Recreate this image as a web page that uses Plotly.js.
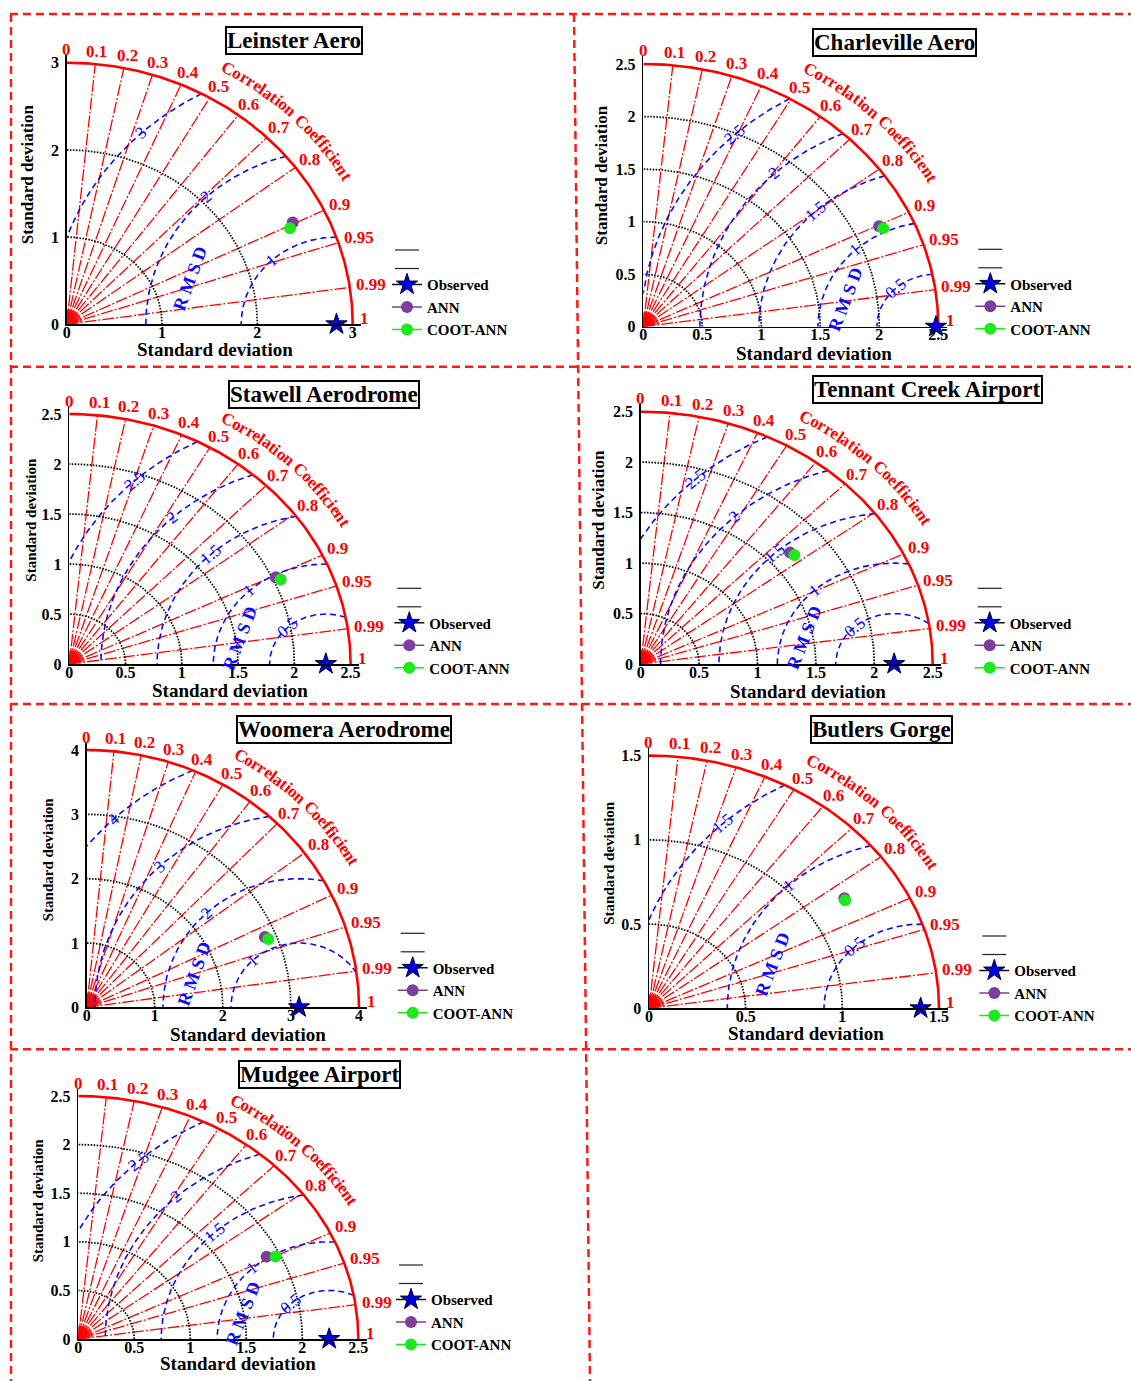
<!DOCTYPE html>
<html><head><meta charset="utf-8">
<script src="https://cdn.plot.ly/plotly-3.0.1.min.js"></script>
<style>html,body{margin:0;padding:0;background:#fff}</style>
</head><body><div id="chart" style="width:1131px;height:1381px"></div>
<script>
// ---------------- DATA ----------------
const stations = ['Leinster Aero', 'Charleville Aero', 'Stawell Aerodrome', 'Tennant Creek Airport', 'Woomera Aerodrome', 'Butlers Gorge', 'Mudgee Airport'];
const stdMax = [3, 2.5, 2.5, 2.5, 4, 1.5, 2.5];
const stdTicks = [
  [0, 1, 2, 3],
  [0, 0.5, 1, 1.5, 2, 2.5],
  [0, 0.5, 1, 1.5, 2, 2.5],
  [0, 0.5, 1, 1.5, 2, 2.5],
  [0, 1, 2, 3, 4],
  [0, 0.5, 1, 1.5],
  [0, 0.5, 1, 1.5, 2, 2.5]
];
const rmsdLevels = [
  [1, 2, 3],
  [0.5, 1, 1.5, 2, 2.5],
  [0.5, 1, 1.5, 2, 2.5],
  [0.5, 1, 1.5, 2, 2.5],
  [1, 2, 3, 4],
  [0.5, 1, 1.5],
  [0.5, 1, 1.5, 2, 2.5]
];
const observedStd = [2.83, 2.48, 2.28, 2.17, 3.12, 1.405, 2.24];
const annStd  = [2.643, 2.215, 2.030, 1.689, 2.836, 1.203, 1.883];
const annCorr = [0.897, 0.902, 0.904, 0.757, 0.923, 0.840, 0.893];
const cootStd  = [2.589, 2.239, 2.060, 1.702, 2.872, 1.200, 1.955];
const cootCorr = [0.905, 0.908, 0.912, 0.773, 0.929, 0.845, 0.901];
const corrTicks = [0, 0.1, 0.2, 0.3, 0.4, 0.5, 0.6, 0.7, 0.8, 0.9, 0.95, 0.99, 1];
const corrTickLabels = ['0', '0.1', '0.2', '0.3', '0.4', '0.5', '0.6', '0.7', '0.8', '0.9', '0.95', '0.99', '1'];
const seriesNames = ['Observed', 'ANN', 'COOT-ANN'];

// ---------------- LAYOUT / STYLE ----------------
const W = 1131, H = 1381;
const FONT = 'Liberation Serif, Times New Roman, serif';
const RED = '#ff0000', BLUE = '#0a0aff';
const PANELS = [
  {ox: 66.7, oy: 324.3, w: 286, h: 261.6, title: [294, 40.5], xt: [214.5, 349.3], yt: [28.3, 174, 17], leg: [395, 250]},
  {ox: 643.3, oy: 326.7, w: 295, h: 262.7, title: [894, 42], xt: [813.8, 353.3], yt: [601.7, 175.5, 17], leg: [978.3, 249.3]},
  {ox: 69.3, oy: 664, w: 281.3, h: 250, title: [324, 394], xt: [230, 690], yt: [30.7, 520, 15], leg: [397.3, 588.3]},
  {ox: 640.7, oy: 664, w: 292, h: 252.3, title: [927.5, 389.5], xt: [808.3, 691.7], yt: [598.3, 519.5, 17], leg: [977.7, 588.3]},
  {ox: 86.7, oy: 1007.3, w: 272.3, h: 257.3, title: [344, 729.5], xt: [248.3, 1034.3], yt: [48.3, 859, 15], leg: [400.7, 933.3]},
  {ox: 649, oy: 1008.3, w: 290, h: 252.7, title: [881.7, 730], xt: [806.2, 1033.3], yt: [608.3, 862.5, 15], leg: [982.3, 936]},
  {ox: 78.3, oy: 1339, w: 280, h: 243, title: [319.7, 1074.5], xt: [237.5, 1363.3], yt: [38.3, 1200, 15], leg: [399, 1265]}
];
const PADF = 0.03;
const CHW = {C:.722,o:.5,r:.444,e:.444,l:.278,a:.5,t:.333,i:.278,n:.556,' ':.25,f:.333,c:.444};

const px2x = p => p / W;
const px2y = p => 1 - p / H;

const traces = [];
const annotations = [];
const layout = {
  width: W, height: H, autosize: false,
  margin: {l: 0, r: 0, t: 0, b: 0, pad: 0, autoexpand: false},
  paper_bgcolor: '#fff', plot_bgcolor: 'rgba(0,0,0,0)',
  font: {family: FONT, color: '#000'},
  showlegend: true,
  hovermode: false,
  shapes: []
};

function lineTrace(xs, ys, color, width, dash, ax) {
  return {type: 'scatter', mode: 'lines', x: xs, y: ys, xaxis: 'x' + ax, yaxis: 'y' + ax,
    line: {color: color, width: width, dash: dash}, showlegend: false, hoverinfo: 'skip'};
}

stations.forEach((name, i) => {
  const P = PANELS[i];
  const R = stdMax[i];
  const s = i === 0 ? '' : String(i + 1);
  const sx = P.w / R, sy = P.h / R;
  const legName = i === 0 ? 'legend' : 'legend' + (i + 1);

  // axes
  const tickText = stdTicks[i].map(v => String(v));
  const tf = {family: FONT, size: 16, weight: 'bold', color: '#000'};
  layout['xaxis' + s] = {
    domain: [px2x(P.ox), px2x(P.ox + P.w * (1 + PADF))],
    range: [0, R * (1 + PADF)], anchor: 'y' + s,
    tickvals: stdTicks[i], ticktext: tickText, ticks: '', ticklen: 0, ticklabelstandoff: -7,
    showline: true, linecolor: '#000', linewidth: 1.5, mirror: false,
    showgrid: false, zeroline: false, fixedrange: true, tickfont: tf
  };
  layout['yaxis' + s] = {
    domain: [px2y(P.oy), px2y(P.oy - P.h * (1 + PADF))],
    range: [0, R * (1 + PADF)], anchor: 'x' + s,
    tickvals: stdTicks[i], ticktext: tickText, ticks: '', ticklen: 0, ticklabelstandoff: 3,
    showline: true, linecolor: '#000', linewidth: 1.5, mirror: false,
    showgrid: false, zeroline: false, fixedrange: true, tickfont: tf
  };

  // dense fan near origin
  {
    const xs = [], ys = [];
    for (let k = 1; k < 40; k++) {
      const c = k / 40;
      const th = Math.acos(c);
      xs.push(0, R * 0.055 * Math.cos(th), null);
      ys.push(0, R * 0.055 * Math.sin(th), null);
    }
    traces.push(lineTrace(xs, ys, RED, 0.8, 'solid', s));
  }
  // radial correlation lines
  {
    const xs = [], ys = [];
    corrTicks.forEach(c => {
      if (c === 0 || c === 1) return;
      const th = Math.acos(c);
      xs.push(0, R * Math.cos(th), null);
      ys.push(0, R * Math.sin(th), null);
    });
    traces.push(lineTrace(xs, ys, RED, 1.3, '12px,2px,2px,2px', s));
  }
  // std arcs (dotted black)
  {
    const xs = [], ys = [];
    stdTicks[i].forEach(t => {
      if (t <= 0 || t >= R) return;
      for (let k = 0; k <= 180; k++) {
        const a = Math.PI / 2 * k / 180;
        xs.push(t * Math.cos(a)); ys.push(t * Math.sin(a));
      }
      xs.push(null); ys.push(null);
    });
    traces.push(lineTrace(xs, ys, '#111', 1.8, '1.6px,1.4px', s));
  }
  // RMSD arcs (blue dashed)
  const obs = observedStd[i];
  {
    const xs = [], ys = [];
    rmsdLevels[i].forEach(rl => {
      let cmin = (R * R - obs * obs - rl * rl) / (2 * obs * rl);
      if (cmin <= -1) return;
      const p0 = cmin >= 1 ? 0 : Math.acos(cmin);
      const p1 = Math.acos(Math.max(-1, -obs / rl));
      for (let k = 0; k <= 200; k++) {
        const p = p0 + (p1 - p0) * k / 200;
        xs.push(obs + rl * Math.cos(p)); ys.push(rl * Math.sin(p));
      }
      xs.push(null); ys.push(null);
    });
    traces.push(lineTrace(xs, ys, BLUE, 1.6, '6px,4px', s));
  }
  // outer arc
  {
    const xs = [], ys = [];
    for (let k = 0; k <= 180; k++) {
      const a = Math.PI / 2 * k / 180;
      xs.push(R * Math.cos(a)); ys.push(R * Math.sin(a));
    }
    traces.push(lineTrace(xs, ys, RED, 2.6, 'solid', s));
  }

  // markers
  traces.push({type: 'scatter', mode: 'lines+markers', name: seriesNames[0],
    x: [obs], y: [0], xaxis: 'x' + s, yaxis: 'y' + s, cliponaxis: false,
    line: {color: '#111', width: 1.5},
    marker: {symbol: 'star', size: 16, color: '#0000dd', line: {color: '#000030', width: 1}},
    legend: legName, hoverinfo: 'skip'});
  traces.push({type: 'scatter', mode: 'lines+markers', name: seriesNames[1],
    x: [annStd[i] * annCorr[i]], y: [annStd[i] * Math.sqrt(1 - annCorr[i] * annCorr[i])],
    xaxis: 'x' + s, yaxis: 'y' + s, cliponaxis: false,
    line: {color: '#7e3f9a', width: 1.5},
    marker: {symbol: 'circle', size: 12, color: '#7e3f9a'},
    legend: legName, hoverinfo: 'skip'});
  traces.push({type: 'scatter', mode: 'lines+markers', name: seriesNames[2],
    x: [cootStd[i] * cootCorr[i]], y: [cootStd[i] * Math.sqrt(1 - cootCorr[i] * cootCorr[i])],
    xaxis: 'x' + s, yaxis: 'y' + s, cliponaxis: false,
    line: {color: '#1ee81e', width: 1.5},
    marker: {symbol: 'circle', size: 12, color: '#1ee81e'},
    legend: legName, hoverinfo: 'skip'});

  layout[legName] = {
    x: px2x(P.leg[0] - 8), y: px2y(P.leg[1] + 18.3), xanchor: 'left', yanchor: 'top',
    bgcolor: 'rgba(0,0,0,0)', borderwidth: 0, tracegroupgap: 0, itemwidth: 30,
    font: {family: FONT, size: 15, weight: 'bold', color: '#000'}, traceorder: 'normal'
  };
  // two blank legend lines (empty legend entries)
  [0, 18.5].forEach(dy => {
    layout.shapes.push({type: 'line', xref: 'paper', yref: 'paper',
      x0: px2x(P.leg[0]), x1: px2x(P.leg[0] + 24), y0: px2y(P.leg[1] + dy), y1: px2y(P.leg[1] + dy),
      line: {color: '#222', width: 1.2}});
  });

  // title box
  annotations.push({xref: 'paper', yref: 'paper', x: px2x(P.title[0]), y: px2y(P.title[1]),
    xanchor: 'center', yanchor: 'middle', showarrow: false, text: name,
    font: {family: FONT, size: 23, weight: 'bold', color: '#000'},
    bordercolor: '#000', borderwidth: 2, borderpad: 0, bgcolor: '#fff'});
  // axis titles
  annotations.push({xref: 'paper', yref: 'paper', x: px2x(P.xt[0]), y: px2y(P.xt[1]),
    xanchor: 'center', yanchor: 'middle', showarrow: false, text: 'Standard deviation',
    font: {family: FONT, size: 19, weight: 'bold', color: '#000'}});
  annotations.push({xref: 'paper', yref: 'paper', x: px2x(P.yt[0]), y: px2y(P.yt[1]),
    xanchor: 'center', yanchor: 'middle', showarrow: false, text: 'Standard deviation', textangle: -90,
    font: {family: FONT, size: P.yt[2], weight: 'bold', color: '#000'}});

  // correlation tick labels
  corrTicks.forEach((c, k) => {
    const th = Math.acos(c);
    const lab = corrTickLabels[k];
    const hw = 0.27 * 16 * lab.length;
    const isOne = c === 1;
    annotations.push({xref: 'x' + s, yref: 'y' + s, x: R * Math.cos(th), y: R * Math.sin(th),
      xshift: isOne ? 12 : (4 + hw) * Math.cos(th), yshift: isOne ? 6 : 12 * Math.sin(th) + 1,
      showarrow: false, text: lab, xanchor: 'center', yanchor: 'middle',
      font: {family: FONT, size: 17, weight: 'bold', color: RED}});
  });

  // curved "Correlation Coefficient"
  {
    const txt = 'Correlation Coefficient';
    const a = 1.13 * P.w, b = 1.13 * P.h;
    const N = 300, phi0 = 60 * Math.PI / 180, phi1 = 30 * Math.PI / 180;
    const cum = [0], phis = [phi0];
    let prev = [a * Math.cos(phi0), b * Math.sin(phi0)];
    for (let k = 1; k <= N; k++) {
      const p = phi0 + (phi1 - phi0) * k / N;
      const pt = [a * Math.cos(p), b * Math.sin(p)];
      cum.push(cum[k - 1] + Math.hypot(pt[0] - prev[0], pt[1] - prev[1]));
      phis.push(p); prev = pt;
    }
    const Ltot = cum[N];
    const centers = []; let acc = 0;
    for (const ch of txt) { const wd = CHW[ch] || 0.5; centers.push(acc + wd / 2); acc += wd; }
    const c0 = centers[0], cL = centers[centers.length - 1];
    [...txt].forEach((ch, k) => {
      if (ch === ' ') return;
      const L = (centers[k] - c0) / (cL - c0) * Ltot;
      let j = 0; while (j < N && cum[j + 1] < L) j++;
      const f = cum[j + 1] > cum[j] ? (L - cum[j]) / (cum[j + 1] - cum[j]) : 0;
      const p = phis[j] + (phis[Math.min(j + 1, N)] - phis[j]) * f;
      const pxX = P.ox + a * Math.cos(p), pxY = P.oy - b * Math.sin(p);
      const ang = Math.atan2(b * Math.cos(p), a * Math.sin(p)) * 180 / Math.PI;
      annotations.push({xref: 'paper', yref: 'paper', x: px2x(pxX), y: px2y(pxY),
        xanchor: 'center', yanchor: 'middle', showarrow: false, text: ch, textangle: ang,
        font: {family: FONT, size: 17, weight: 'bold', color: RED}});
    });
  }

  // RMSD contour labels
  rmsdLevels[i].forEach(rl => {
    const ph = 133 * Math.PI / 180;
    const x = obs + rl * Math.cos(ph), y = rl * Math.sin(ph);
    const ang = Math.atan2(sy * Math.cos(ph), sx * Math.sin(ph)) * 180 / Math.PI;
    annotations.push({xref: 'x' + s, yref: 'y' + s, x: x, y: y, showarrow: false,
      text: String(rl), textangle: ang, xanchor: 'center', yanchor: 'middle',
      font: {family: FONT, size: 17, color: BLUE}});
  });
  {
    const rr = 1.62 * rmsdLevels[i][0];
    const ph = 161 * Math.PI / 180;
    const ang = Math.atan2(sy * Math.cos(ph), sx * Math.sin(ph)) * 180 / Math.PI;
    annotations.push({xref: 'x' + s, yref: 'y' + s, x: obs + rr * Math.cos(ph), y: rr * Math.sin(ph),
      showarrow: false, text: 'R M S D', textangle: ang, xanchor: 'center', yanchor: 'middle',
      font: {family: FONT, size: 18, weight: 'bold', color: BLUE}});
  }
});

// red dashed frame
const FR = {color: '#ff1a1a', width: 2.5, dash: '8px,5px'};
[[10, 14, 1131, 14], [10, 366.7, 1131, 366.7], [10, 704, 1131, 704], [10, 1049.3, 1131, 1049.3],
 [11, 14, 11, 1381], [574, 14, 590, 1381]].forEach(l => {
  layout.shapes.push({type: 'line', xref: 'paper', yref: 'paper',
    x0: px2x(l[0]), y0: px2y(l[1]), x1: px2x(l[2]), y1: px2y(l[3]), line: FR, layer: 'above'});
});

layout.annotations = annotations;
Plotly.newPlot('chart', traces, layout, {displayModeBar: false, staticPlot: true});
</script>
</body></html>
